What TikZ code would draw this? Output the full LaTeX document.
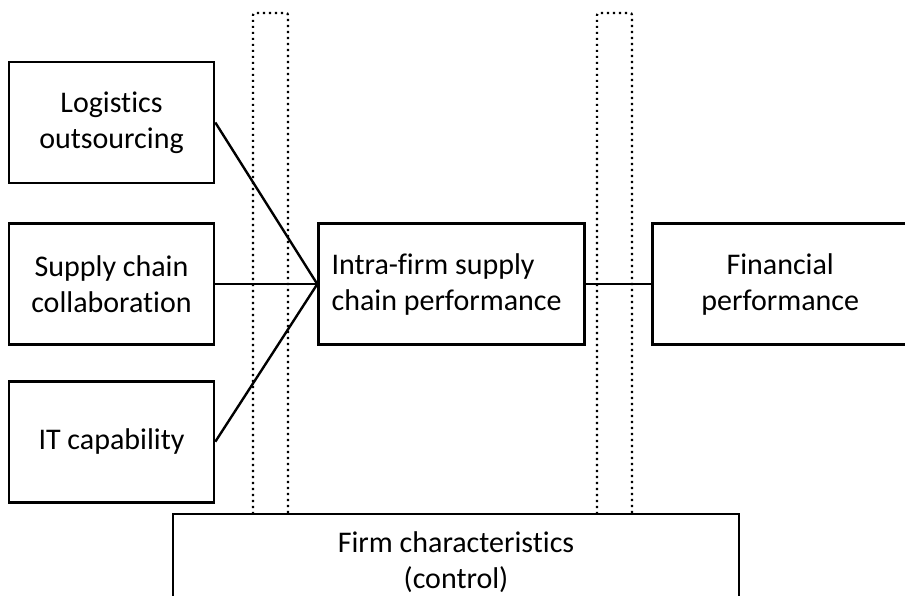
\documentclass[tikz,border=0pt]{standalone}
\usepackage{fontspec}
\setmainfont{Carlito}[Ligatures=NoCommon]
\usetikzlibrary{positioning}
\tikzset{
    % node styles
    factor/.style = {draw, line width=2.6pt, minimum width=205pt, minimum height=121pt, align=center, inner sep=0pt, fill=white},
    outcome/.style = {factor, text width=240pt, inner xsep=13pt, align=flush left},
    control/.style = {factor, minimum width=566pt, minimum height=96pt},
    % line styles
    link/.style = {line width=2.4pt},
    moderator/.style = {line width=2.2pt, dash pattern=on 2.2pt off 3.8pt, rounded corners=2pt}
}
\begin{document}
\begin{tikzpicture}[x=1pt, y=-1pt, font=\fontsize{30}{36}\selectfont]
        \clip (0,0) rectangle (905,596);
        % dotted moderator bars
        \draw[moderator] (253,514) -- (253,13) -- (288,13) -- (288,514);
        \draw[moderator] (597,514) -- (597,13) -- (632,13) -- (632,514);

        % antecedents
        \node[factor] (lo) at (111.5,122.5) {Logistics\\outsourcing};
        \node[factor] (scc) [below=38pt of lo] {Supply chain\\collaboration};
        \node[factor] (itc) [below=34pt of scc] {IT capability};

        % performance
        \node[outcome] (isc) [right=102pt of scc] {Intra-firm supply\\chain performance};
        \node[factor, minimum width=256pt] (fin) [right=65pt of isc] {Financial\\performance};

        % control
        \node[control] (firm) at (456,562) {Firm characteristics\\(control)};

        % links
        \draw (isc.west) edge[link] (lo.east)
                         edge[link] (scc.east)
                         edge[link] (itc.east);
        \draw[link] (isc.east) -- (fin.west);
\end{tikzpicture}
\end{document}
